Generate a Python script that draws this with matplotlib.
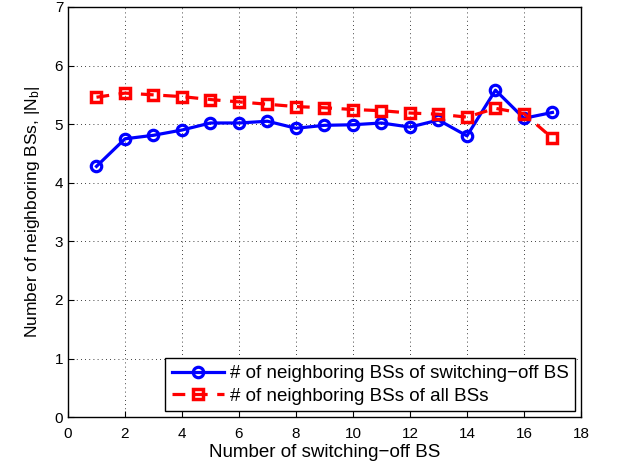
import matplotlib
matplotlib.use('Agg')
import matplotlib.pyplot as plt

plt.rcParams['font.family'] = ['Liberation Sans', 'DejaVu Sans']
plt.rcParams['mathtext.fontset'] = 'custom'
plt.rcParams['mathtext.rm'] = 'Liberation Sans'
plt.rcParams['mathtext.it'] = 'Liberation Sans'

# data
num_off = list(range(1, 18))
nb_switch_off = [4.28, 4.75, 4.81, 4.90, 5.02, 5.02, 5.05, 4.93, 4.98, 4.99,
                 5.02, 4.95, 5.07, 4.80, 5.58, 5.10, 5.20]
nb_all = [5.46, 5.53, 5.50, 5.47, 5.42, 5.38, 5.34, 5.30, 5.28, 5.25,
          5.23, 5.19, 5.17, 5.12, 5.27, 5.18, 4.76]

fig = plt.figure(figsize=(6.21, 4.65), dpi=100)
ax = fig.add_axes([0.1095, 0.103, 0.826, 0.882])

ax.plot(num_off, nb_switch_off, '-o', color='blue', lw=2.3, ms=7.5,
        mfc='none', mew=2.3, label='# of neighboring BSs of switching\u2212off BS')
ax.plot(num_off, nb_all, '--s', color='red', lw=2.3, ms=6.5,
        mfc='none', mew=2.5, dashes=(4, 3), label='# of neighboring BSs of all BSs')

ax.set_xlim(0, 18)
ax.set_ylim(0, 7)
ax.set_xticks(range(0, 19, 2))
ax.set_yticks(range(0, 8))
ax.grid(True, color='black', linestyle=(0, (1, 4)), lw=0.6)
ax.tick_params(direction='in', labelsize=11, length=4)
ax.tick_params(axis='x', pad=7)
for s in ax.spines.values():
    s.set_linewidth(1.0)

ax.set_xlabel('Number of switching\u2212off BS', fontsize=13.5, labelpad=2)
ax.set_ylabel('Number of neighboring BSs, |N$_\\mathrm{b}$|', fontsize=12.5, labelpad=9)

leg = ax.legend(loc='lower right', fontsize=13.5, fancybox=False, framealpha=1,
                edgecolor='black', borderaxespad=0.3, handlelength=2.8,
                borderpad=0.35, labelspacing=0.3, handletextpad=0.3)
leg.get_frame().set_linewidth(1.0)

fig.savefig('out.png', dpi=100)
